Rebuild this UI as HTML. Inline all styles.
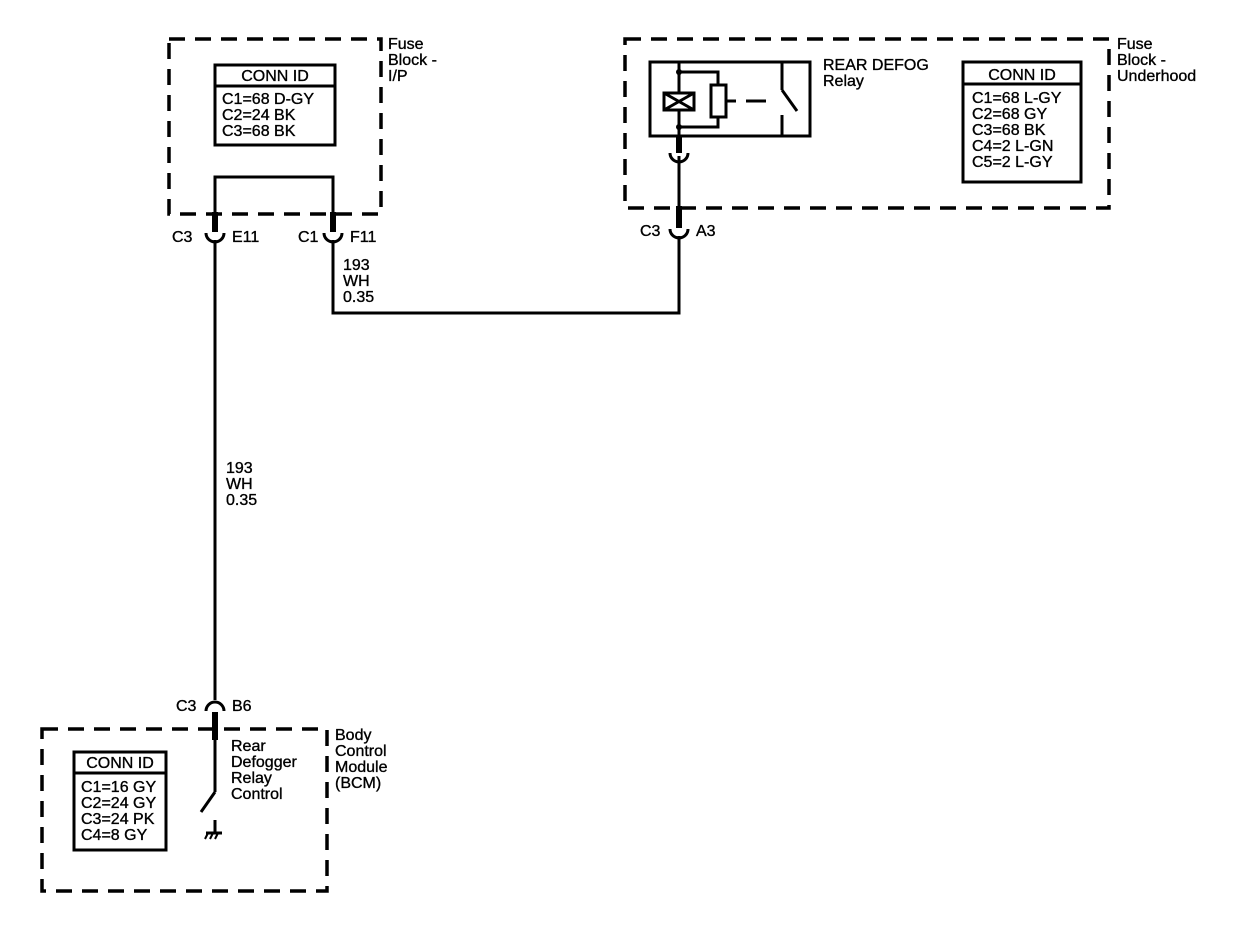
<!DOCTYPE html>
<html><head><meta charset="utf-8"><style>
html,body{margin:0;padding:0;background:#fff}
svg{display:block}
text{font-family:"Liberation Sans",Arial,sans-serif;font-size:16px;fill:#000;stroke:#000;stroke-width:0.35}
</style></head><body>
<svg width="1248" height="932" viewBox="0 0 1248 932" xmlns="http://www.w3.org/2000/svg">
<g fill="none" stroke="#000" stroke-width="3.5" stroke-dasharray="16 10">
<rect x="169" y="39" width="212" height="175"/>
<rect x="625" y="39" width="484" height="169"/>
<rect x="42" y="729" width="285" height="162"/>
</g>
<g fill="none" stroke="#000" stroke-width="3">
<rect x="215" y="65" width="120" height="80"/><line x1="215" y1="86" x2="335" y2="86"/>
<rect x="963" y="62" width="118" height="120"/><line x1="963" y1="84" x2="1081" y2="84"/>
<rect x="74" y="752" width="92" height="98"/><line x1="74" y1="773" x2="166" y2="773"/>
<polyline points="215,232 215,177 333,177 333,232"/>
<line x1="215" y1="240" x2="215" y2="700"/>
<polyline points="333,240 333,313 679,313 679,236"/>
<rect x="650" y="62" width="160" height="74"/>
<line x1="679" y1="62" x2="679" y2="93"/><line x1="679" y1="110" x2="679" y2="136"/>
<rect x="664" y="93" width="30" height="17"/>
<line x1="664" y1="93" x2="694" y2="110"/><line x1="664" y1="110" x2="694" y2="93"/>
<polyline points="679,72 718,72 718,85"/><polyline points="679,127 718,127 718,117"/>
<rect x="711" y="85" width="15" height="32"/>
<line x1="726" y1="101" x2="736" y2="101"/><line x1="746" y1="101" x2="766" y2="101"/>
<line x1="782" y1="62" x2="782" y2="90"/><line x1="782" y1="90" x2="797" y2="111"/>
<line x1="782" y1="115" x2="782" y2="136"/>
<line x1="679" y1="156" x2="679" y2="222"/>
<line x1="215" y1="712" x2="215" y2="792"/><line x1="215" y1="792" x2="201" y2="812"/>
<line x1="215" y1="820" x2="215" y2="833"/><line x1="206" y1="833" x2="222" y2="833"/>
<line x1="208" y1="833" x2="205" y2="839" stroke-width="2"/><line x1="213" y1="833" x2="210" y2="839" stroke-width="2"/><line x1="218" y1="833" x2="215" y2="839" stroke-width="2"/>
<path d="M206,233 A9,9 0 0 0 224,233"/>
<path d="M324,233 A9,9 0 0 0 342,233"/>
<path d="M670,229 A9,9 0 0 0 688,229"/>
<path d="M670,153 A9,9 0 0 0 688,153"/>
<path d="M206,711 A9,9 0 0 1 224,711"/>
</g>
<g fill="#000">
<rect x="212" y="212" width="6" height="20"/>
<rect x="330" y="212" width="6" height="20"/>
<rect x="676" y="136" width="6" height="17"/>
<rect x="676" y="206" width="6" height="22"/>
<rect x="212" y="712" width="6" height="28"/>
<circle cx="679" cy="72" r="3"/><circle cx="679" cy="127" r="3"/>
</g>
<text x="388" y="49">Fuse</text><text x="388" y="65">Block -</text><text x="388" y="81">I/P</text>
<text x="275" y="81" text-anchor="middle">CONN ID</text>
<text x="222" y="104">C1=68 D-GY</text><text x="222" y="120">C2=24 BK</text><text x="222" y="136">C3=68 BK</text>
<text x="172" y="242">C3</text><text x="232" y="242">E11</text>
<text x="298" y="242">C1</text><text x="350" y="242">F11</text>
<text x="343" y="270">193</text><text x="343" y="286">WH</text><text x="343" y="302">0.35</text>
<text x="226" y="473">193</text><text x="226" y="489">WH</text><text x="226" y="505">0.35</text>
<text x="823" y="70">REAR DEFOG</text><text x="823" y="86">Relay</text>
<text x="1117" y="49">Fuse</text><text x="1117" y="65">Block -</text><text x="1117" y="81">Underhood</text>
<text x="1022" y="80" text-anchor="middle">CONN ID</text>
<text x="972" y="103">C1=68 L-GY</text><text x="972" y="119">C2=68 GY</text><text x="972" y="135">C3=68 BK</text><text x="972" y="151">C4=2 L-GN</text><text x="972" y="167">C5=2 L-GY</text>
<text x="640" y="236">C3</text><text x="696" y="236">A3</text>
<text x="176" y="711">C3</text><text x="232" y="711">B6</text>
<text x="231" y="751">Rear</text><text x="231" y="767">Defogger</text><text x="231" y="783">Relay</text><text x="231" y="799">Control</text>
<text x="335" y="740">Body</text><text x="335" y="756">Control</text><text x="335" y="772">Module</text><text x="335" y="788">(BCM)</text>
<text x="120" y="768" text-anchor="middle">CONN ID</text>
<text x="81" y="792">C1=16 GY</text><text x="81" y="808">C2=24 GY</text><text x="81" y="824">C3=24 PK</text><text x="81" y="840">C4=8 GY</text>
</svg>
</body></html>
